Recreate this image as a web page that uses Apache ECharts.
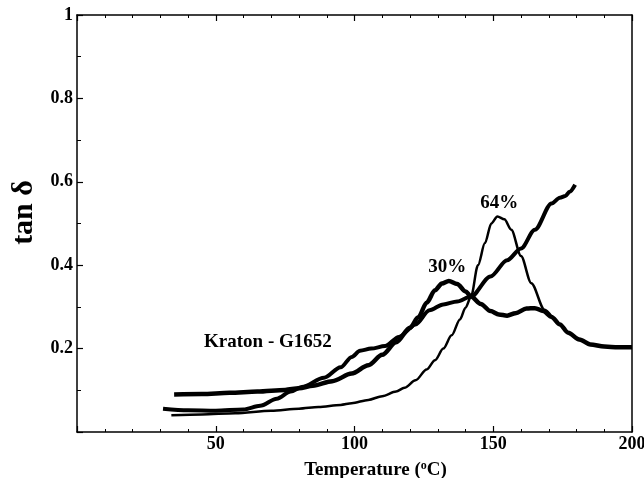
<!DOCTYPE html>
<html>
<head>
<meta charset="utf-8">
<script src="https://cdn.jsdelivr.net/npm/echarts@6/dist/echarts.min.js"></script>
<style>
  html, body { margin: 0; padding: 0; background: #fff; }
  #chart { width: 644px; height: 478px; }
</style>
</head>
<body>
<div id="chart"></div>
<script>
// Loss tangent vs temperature for Kraton G1652 and two filled compositions.
const kratonTemp = [31, 40, 50, 60, 66, 72, 77, 81, 89, 95, 99, 102, 106, 111, 116, 122, 127, 132, 137, 142, 149, 155, 160, 165, 171, 174, 176, 177.5, 179.5];
const kratonTan  = [0.056, 0.052, 0.051, 0.054, 0.063, 0.080, 0.097, 0.108, 0.130, 0.155, 0.180, 0.195, 0.200, 0.206, 0.228, 0.258, 0.292, 0.306, 0.313, 0.325, 0.373, 0.412, 0.440, 0.485, 0.548, 0.562, 0.566, 0.576, 0.593];

const pct30Temp = [35, 45, 55, 65, 75, 80, 85, 92, 99, 105, 110, 115, 120, 123, 126, 129, 131.5, 134, 137, 140, 142, 145.5, 149, 152, 155, 158, 162, 165, 168, 171, 174, 177, 181, 185, 190, 195, 200];
const pct30Tan  = [0.090, 0.091, 0.094, 0.097, 0.101, 0.105, 0.111, 0.122, 0.140, 0.160, 0.185, 0.215, 0.250, 0.275, 0.310, 0.340, 0.356, 0.362, 0.355, 0.337, 0.325, 0.307, 0.290, 0.282, 0.279, 0.285, 0.296, 0.297, 0.290, 0.276, 0.258, 0.238, 0.222, 0.210, 0.205, 0.203, 0.203];

const pct64Temp = [34, 45, 57, 70, 80, 87, 95, 99, 105, 110, 115, 118, 122, 126, 129, 132, 135, 138, 140, 142, 144.5, 147, 149.3, 151.5, 154, 156.5, 160, 163.7, 168.5, 171];
const pct64Tan  = [0.040, 0.042, 0.045, 0.051, 0.056, 0.060, 0.065, 0.069, 0.077, 0.086, 0.097, 0.106, 0.124, 0.150, 0.172, 0.200, 0.232, 0.270, 0.298, 0.325, 0.400, 0.453, 0.500, 0.517, 0.510, 0.485, 0.422, 0.357, 0.293, 0.277];

const xTicks = [50, 100, 150, 200];
const yTicks = [0.2, 0.4, 0.6, 0.8, 1];

const labelFont = 'Liberation Serif';
const pairs = (xs, ys) => xs.map((x, i) => [x, ys[i]]);

const textMark = (coord, text) => ({
  symbol: 'circle',
  symbolSize: 1,
  itemStyle: { color: 'rgba(0,0,0,0)' },
  data: [{
    coord: coord,
    label: {
      show: true, position: 'inside', formatter: text,
      color: '#000', fontFamily: labelFont, fontWeight: 'bold', fontSize: 19
    }
  }]
});

const chart = echarts.init(document.getElementById('chart'), null, { renderer: 'canvas' });

const frameLine = { show: true, onZero: false, lineStyle: { color: '#000', width: 1.5 } };
const majorTick = { show: true, inside: true, length: 6, lineStyle: { color: '#000', width: 1.2 } };

chart.setOption({
  backgroundColor: '#fff',
  animation: false,
  grid: { left: 77, right: 12, top: 15, bottom: 46, containLabel: false, outerBoundsMode: 'none' },
  xAxis: [{
    type: 'value', min: 0, max: 200, interval: 50,
    axisLine: frameLine,
    axisTick: majorTick,
    minorTick: { show: true, splitNumber: 5, length: 3, lineStyle: { color: '#000', width: 1 } },
    splitLine: { show: false },
    axisLabel: {
      color: '#000', fontFamily: labelFont, fontWeight: 'bold', fontSize: 18, margin: 3,
      formatter: v => (xTicks.includes(v) ? String(v) : '')
    },
    name: 'Temperature ({sup|o}C)',
    nameLocation: 'middle', nameGap: 28,
    nameTextStyle: {
      color: '#000', fontFamily: labelFont, fontWeight: 'bold', fontSize: 19,
      padding: [0, 0, 0, 42],
      rich: { sup: { fontFamily: labelFont, fontWeight: 'bold', fontSize: 12, verticalAlign: 'top', padding: [0, 0, 8, 0] } }
    }
  }, {
    type: 'value', position: 'top', min: 0, max: 200, interval: 50,
    axisLine: frameLine,
    axisTick: majorTick,
    minorTick: { show: true, splitNumber: 5, length: 3, lineStyle: { color: '#000', width: 1 } },
    splitLine: { show: false }, axisLabel: { show: false }
  }],
  yAxis: [{
    type: 'value', min: 0, max: 1, interval: 0.2,
    axisLine: frameLine,
    axisTick: majorTick,
    minorTick: { show: true, splitNumber: 2, length: 4, lineStyle: { color: '#000', width: 1 } },
    splitLine: { show: false },
    axisLabel: {
      color: '#000', fontFamily: labelFont, fontWeight: 'bold', fontSize: 18, margin: 4,
      formatter: v => {
        const hit = yTicks.find(t => Math.abs(t - v) < 1e-9);
        return hit === undefined ? '' : String(hit);
      }
    },
    name: 'tan δ',
    nameLocation: 'middle', nameGap: 36, nameRotate: 90,
    nameTextStyle: {
      color: '#000', fontFamily: labelFont, fontWeight: 'bold', fontSize: 30,
      padding: [0, 0, 0, 22]
    }
  }, {
    type: 'value', position: 'right', min: 0, max: 1, interval: 0.2,
    axisLine: frameLine, axisTick: { show: false },
    splitLine: { show: false }, axisLabel: { show: false }
  }],
  series: [{
    name: 'Kraton - G1652',
    type: 'line', showSymbol: false, smooth: 0.3, smoothMonotone: 'x',
    data: pairs(kratonTemp, kratonTan),
    lineStyle: { color: '#000', width: 4 },
    markPoint: textMark([68.8, 0.216], 'Kraton - G1652')
  }, {
    name: '30%',
    type: 'line', showSymbol: false, smooth: 0.3, smoothMonotone: 'x',
    data: pairs(pct30Temp, pct30Tan),
    lineStyle: { color: '#000', width: 4.5 },
    markPoint: textMark([133.4, 0.396], '30%')
  }, {
    name: '64%',
    type: 'line', showSymbol: false, smooth: 0.3, smoothMonotone: 'x',
    data: pairs(pct64Temp, pct64Tan),
    lineStyle: { color: '#000', width: 2.5 },
    markPoint: textMark([152.2, 0.550], '64%')
  }]
});
</script>
</body>
</html>
